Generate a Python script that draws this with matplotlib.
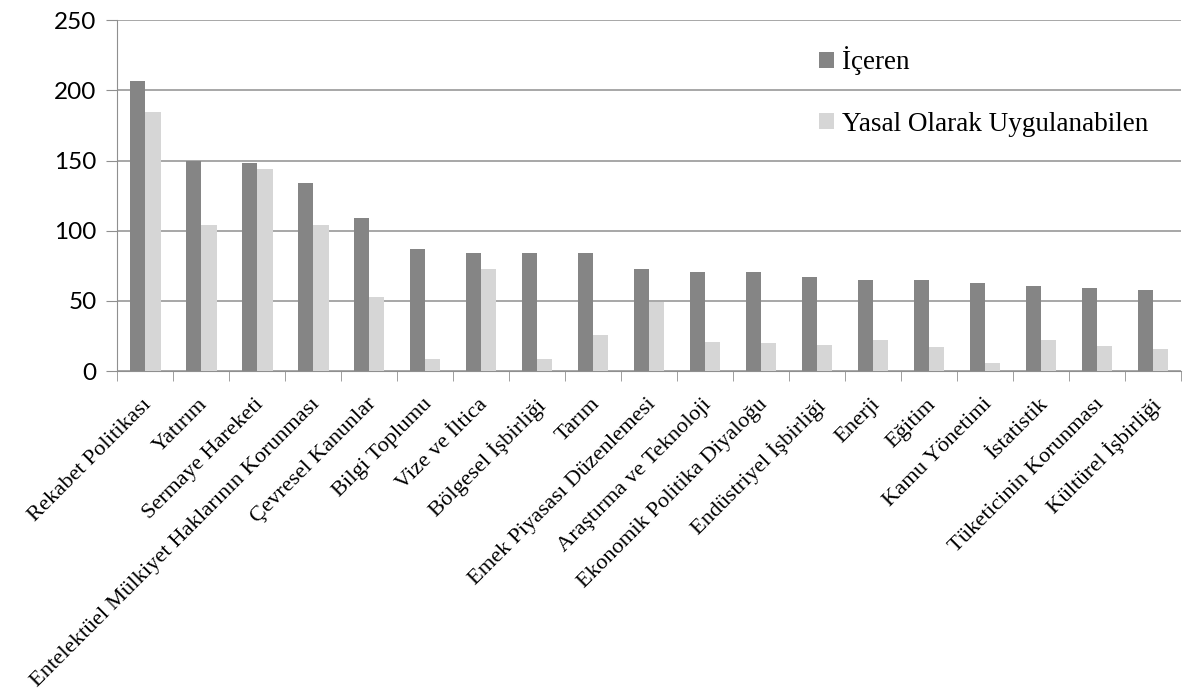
import numpy as np
import matplotlib
matplotlib.use('Agg')
import matplotlib.pyplot as plt
import matplotlib.transforms as mtransforms

kategoriler = ['Rekabet Politikası', 'Yatırım', 'Sermaye Hareketi',
               'Entelektüel Mülkiyet Haklarının Korunması', 'Çevresel Kanunlar',
               'Bilgi Toplumu', 'Vize ve İltica', 'Bölgesel İşbirliği', 'Tarım',
               'Emek Piyasası Düzenlemesi', 'Araştırma ve Teknoloji',
               'Ekonomik Politika Diyaloğu', 'Endüstriyel İşbirliği', 'Enerji',
               'Eğitim', 'Kamu Yönetimi', 'İstatistik', 'Tüketicinin Korunması',
               'Kültürel İşbirliği']
iceren = [207, 150, 148, 134, 109, 87, 84, 84, 84, 73, 71, 71, 67, 65, 65, 63, 61, 59, 58]
yasal = [185, 104, 144, 104, 53, 9, 73, 9, 26, 49, 21, 20, 19, 22, 17, 6, 22, 18, 16]
yticks = [0, 50, 100, 150, 200, 250]

fig = plt.figure(figsize=(11.86, 6.99), dpi=100)
ax = fig.add_axes([0.099, 0.469, 0.897, 0.502])

x = np.arange(len(kategoriler))
w = 0.27
ax.bar(x - w/2, iceren, w, color='#858585', label='İçeren', zorder=3)
ax.bar(x + w/2, yasal, w, color='#d6d6d6', label='Yasal Olarak Uygulanabilen', zorder=3)

ax.set_xlim(-0.5, len(kategoriler) - 0.5)
ax.set_ylim(0, 250)
ax.set_yticks(yticks)
ax.set_yticklabels([str(t) for t in yticks], fontsize=17.5, family=['Lato', 'DejaVu Sans'])
ax.yaxis.grid(True, color='#8f8f8f', linewidth=1.1, zorder=0)
ax.tick_params(axis='y', length=8, color='#8f8f8f', pad=7)

ax.set_xticks(x)
ax.set_xticklabels(kategoriler, rotation=45, ha='right', rotation_mode='anchor',
                   fontsize=16.2, family=['Liberation Serif', 'DejaVu Serif'])
ax.set_xticks(np.arange(len(kategoriler) + 1) - 0.5, minor=True)
ax.tick_params(axis='x', which='major', length=0, pad=17)
ax.tick_params(axis='x', which='minor', length=7, color='#8f8f8f')
kaydir = mtransforms.ScaledTranslation(-0.03, 0, fig.dpi_scale_trans)
for lbl in ax.get_xticklabels():
    lbl.set_transform(lbl.get_transform() + kaydir)

for s in ['top', 'right']:
    ax.spines[s].set_visible(False)
ax.spines['left'].set_color('#8f8f8f')
ax.spines['bottom'].set_color('#8f8f8f')

leg = ax.legend(loc='upper left', bbox_to_anchor=(0.637, 0.995), frameon=False,
                prop={'family': ['Liberation Serif', 'DejaVu Serif'], 'size': 19.5},
                handlelength=0.55, handleheight=0.55, handletextpad=0.3, labelspacing=1.35)

plt.savefig('out.png', dpi=100)
